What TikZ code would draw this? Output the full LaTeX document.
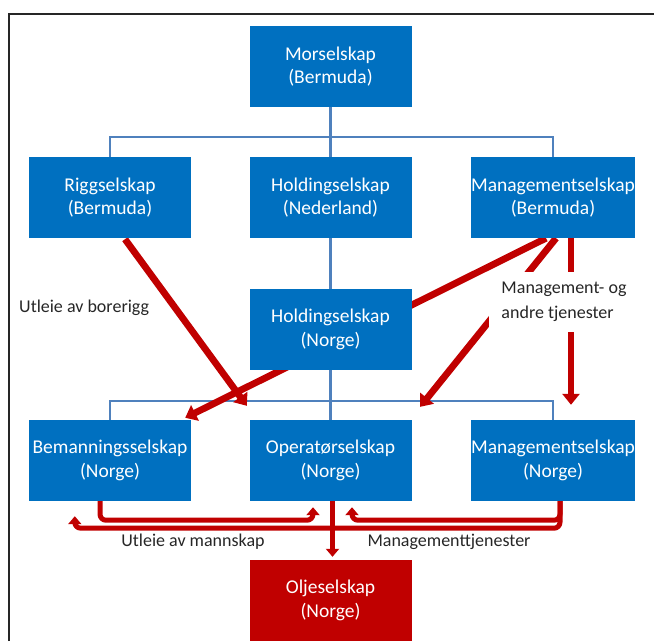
\documentclass[tikz,border=0pt]{standalone}
\usepackage{fontspec}
\setmainfont{Carlito}
\usetikzlibrary{arrows.meta,calc}
\pgfdeclarelayer{bg}
\pgfsetlayers{bg,main}
\definecolor{boxblue}{RGB}{0,112,192}
\definecolor{oilred}{RGB}{192,0,0}
\definecolor{linkblue}{RGB}{79,129,189}
\definecolor{txtgray}{RGB}{38,38,38}
\begin{document}
\begin{tikzpicture}[x=1pt,y=-1pt,
  company/.style={fill=boxblue,text=white,minimum width=162pt,minimum height=81pt,inner sep=0pt,align=center,font=\fontsize{19.5}{23.5}\selectfont},
  oil/.style={company,fill=oilred},
  link/.style={draw=linkblue,line width=2.2pt},
  flow/.style={draw=oilred,line width=6.8pt,-{Triangle[width=17pt,length=11pt]}},
  flowsmall/.style={draw=oilred,line width=5pt,rounded corners=6pt,-{Triangle[width=13pt,length=8pt]}},
  lbl/.style={text=txtgray,inner sep=0pt,align=left,font=\fontsize{18}{25}\selectfont}]
\useasboundingbox (0,0) rectangle (654,641);
\draw[black!85,line width=2pt] (9,641) -- (9,14) -- (654,14);

\node[company] (mor) at (330.5,66.5) {Morselskap\\(Bermuda)};
\node[company] (rig) at (110,197.5) {Riggselskap\\(Bermuda)};
\node[company] (hne) at (330.5,197.5) {Holdingselskap\\(Nederland)};
\node[company] (mbe) at (553,197.5) {Managementselskap\\(Bermuda)};
\node[company] (hno) at (330.5,329.5) {Holdingselskap\\(Norge)};
\node[company] (bem) at (110,460.5) {Bemanningsselskap\\(Norge)};
\node[company] (ope) at (330.5,460.5) {Operatørselskap\\(Norge)};
\node[company] (mno) at (553,460.5) {Managementselskap\\(Norge)};
\node[oil] (olj) at (330.5,600.5) {Oljeselskap\\(Norge)};

\node[lbl,anchor=west] (lrig) at (19,308) {Utleie av borerigg};
\node[lbl,fill=white,minimum width=150pt,minimum height=60pt] (lmgmt) at (564,302) {Management- og\\andre tjenester};
\node[lbl] (lman) at (193,542) {Utleie av mannskap};
\node[lbl] (lmt) at (449,542) {Managementtjenester};

\begin{pgfonlayer}{bg}
\draw[link] (mor.south) -- (hne.north);
\draw[link] (rig.north) |- ($(mor.south)+(0,29.5)$) -| (mbe.north);
\draw[link] (hne.south) -- (hno.north);
\draw[link] (hno.south) -- (ope.north);
\draw[link] (bem.north) |- ($(hno.south)+(0,30.5)$) -| (mno.north);

\draw[flow] ($(rig.south)+(15,1)$) -- ($(ope.north west)+(-2.5,-14)$);
\draw[flow] ($(mbe.south)+(-7,0)$) -- ($(bem.north east)+(-6,-2)$);
\draw[flow] ($(mbe.south)+(3,0)$) -- ($(ope.north east)+(8.5,-13)$);
\draw[flow] ($(mbe.south)+(18,0)$) -- ($(mno.north)+(18,-15)$);

\draw[flowsmall] ($(bem.south)+(-10,0)$) -- ++(0,19) -| ($(ope.south)+(-17.5,6)$);
\draw[flowsmall] ($(mno.south)+(7,0)$) -- ++(0,27) -| ($(bem.south west)+(46,15)$);
\draw[flowsmall] ($(mno.south)+(7,0)$) -- ++(0,19) -| ($(ope.south)+(21.5,6)$);
\draw[flowsmall] ($(ope.south)+(2,0)$) -- ($(olj.north)+(2,-3)$);
\end{pgfonlayer}
\end{tikzpicture}
\end{document}
